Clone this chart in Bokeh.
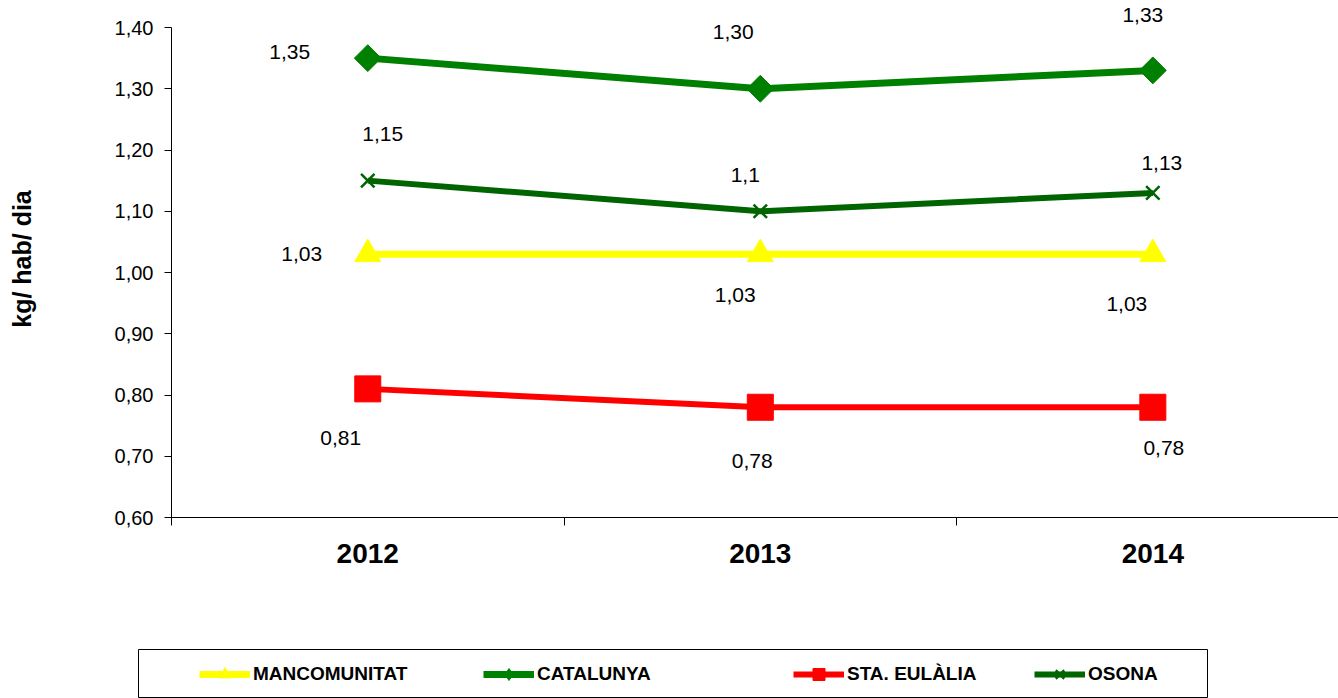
from bokeh.plotting import figure
from bokeh.layouts import column
from bokeh.core.properties import value
from bokeh.models import (ColumnDataSource, Range1d, FixedTicker, CustomJSTickFormatter,
                          LabelSet, Legend, LegendItem)
from bokeh.embed import file_html
from bokeh.resources import INLINE

# ---------------- data ----------------
years = ["2012", "2013", "2014"]
mancomunitat = [1.03, 1.03, 1.03]
catalunya = [1.35, 1.30, 1.33]
sta_eulalia = [0.81, 0.78, 0.78]
osona = [1.15, 1.10, 1.13]

mancomunitat_labels = ["1,03", "1,03", "1,03"]
catalunya_labels = ["1,35", "1,30", "1,33"]
sta_eulalia_labels = ["0,81", "0,78", "0,78"]
osona_labels = ["1,15", "1,1", "1,13"]

y_ticks = [0.60, 0.70, 0.80, 0.90, 1.00, 1.10, 1.20, 1.30, 1.40]

# ---------------- styles ----------------
FONT = "Liberation Sans"

series = [
    dict(name="MANCOMUNITAT", values=mancomunitat, labels=mancomunitat_labels,
         color="#FFFF00", lw=7, marker="triangle", size=26, angle=0.0, mlw=1,
         legend_marker="triangle",
         dx=[-66, -25, -26], dy=[0, 41, 50], lx=61),
    dict(name="CATALUNYA", values=catalunya, labels=catalunya_labels,
         color="#008000", lw=7, marker="square", size=19, angle=0.785398, mlw=1,
         legend_marker="diamond",
         dx=[-78, -27, -10], dy=[-6, -57, -55], lx=345),
    dict(name="STA. EULÀLIA", values=sta_eulalia, labels=sta_eulalia_labels,
         color="#FF0000", lw=6, marker="square", size=26, angle=0.0, mlw=1,
         legend_marker="square",
         dx=[-27, -8, 11], dy=[49, 54, 41], lx=655),
    dict(name="OSONA", values=osona, labels=osona_labels,
         color="#006400", lw=6, marker="x", size=19, angle=0.0, mlw=2.5,
         legend_marker="x",
         dx=[15, -15, 9], dy=[-47, -36, -30], lx=896),
]

xs = [i + 0.5 for i in range(len(years))]

# frame top sits 27px above the 1,40 tick so that labels above it stay visible
p = figure(width=1338, height=649, output_backend="svg", toolbar_location=None,
           x_range=Range1d(0, 2.973), y_range=Range1d(0.6, 1.4441),
           min_border_left=171, min_border_right=0, min_border_top=0,
           min_border_bottom=132, frame_align=False)
p.outline_line_color = None
p.grid.visible = False

# legend strip (its frame outline is the legend box)
lf = figure(width=1338, height=49, output_backend="svg", toolbar_location=None,
            x_range=Range1d(0, 3), y_range=Range1d(0, 2),
            x_axis_location=None, y_axis_location=None,
            min_border_left=138, min_border_right=131, min_border_top=0,
            min_border_bottom=0, frame_align=False)
lf.grid.visible = False
lf.outline_line_color = "black"
lf.outline_line_width = 1

for s in series:
    src = ColumnDataSource(dict(x=xs, y=s["values"], text=s["labels"],
                                xo=s["dx"], yo=[-d for d in s["dy"]]))
    p.line("x", "y", source=src, line_color=s["color"], line_width=s["lw"])
    p.scatter("x", "y", source=src, marker=s["marker"], size=s["size"],
              angle=s["angle"], fill_color=s["color"], line_color=s["color"],
              line_width=s["mlw"])
    p.add_layout(LabelSet(x="x", y="y", text="text", source=src, x_offset="xo",
                          y_offset="yo", text_align="center", text_baseline="middle",
                          text_font=value(FONT), text_font_size="21px",
                          text_color="black"))

    # legend entry renderers (same series, hidden; only their legend glyph is shown)
    lr = lf.line("x", "y", source=src, line_color=s["color"], line_width=s["lw"])
    mr = lf.scatter("x", "y", source=src, marker=s["legend_marker"], size=s["size"],
                    fill_color=s["color"], line_color=s["color"],
                    line_width=s["mlw"])
    lr.visible = False
    mr.visible = False
    lg = Legend(items=[LegendItem(label=s["name"], renderers=[lr, mr])],
                location=(s["lx"], 9), orientation="horizontal",
                padding=0, margin=0, spacing=0, border_line_color=None,
                background_fill_alpha=0, glyph_width=51, glyph_height=30,
                label_height=30, label_standoff=3,
                label_text_font=FONT, label_text_font_style="bold",
                label_text_font_size="19px", label_text_color="black")
    lf.add_layout(lg, "center")

# y axis
yax = p.yaxis[0]
yax.ticker = FixedTicker(ticks=y_ticks)
yax.bounds = (0.6, 1.4)
yax.formatter = CustomJSTickFormatter(code="return tick.toFixed(2).replace('.', ',');")
yax.major_tick_out = 7
yax.major_tick_in = 0
yax.minor_tick_out = 0
yax.minor_tick_in = 0
yax.major_label_standoff = 11
yax.major_label_text_font = FONT
yax.major_label_text_font_size = "20px"
yax.major_label_text_color = "black"
yax.axis_line_color = "black"
yax.major_tick_line_color = "black"
yax.axis_label = "kg/ hab/ dia"
yax.axis_label_text_font = FONT
yax.axis_label_text_font_style = "bold"
yax.axis_label_text_font_size = "25px"
yax.axis_label_text_color = "black"
yax.axis_label_standoff = 76

# x axis
xax = p.xaxis[0]
xax.ticker = FixedTicker(ticks=xs, minor_ticks=[0, 1, 2, 3])
xax.formatter = CustomJSTickFormatter(args=dict(labels=years),
                                      code="return labels[Math.floor(tick)];")
xax.major_tick_out = 0
xax.major_tick_in = 0
xax.minor_tick_out = 8
xax.minor_tick_in = 0
xax.minor_tick_line_color = "black"
xax.axis_line_color = "black"
xax.major_label_standoff = 18
xax.major_label_text_font = FONT
xax.major_label_text_font_style = "bold"
xax.major_label_text_font_size = "28px"
xax.major_label_text_color = "black"

layout = column(p, lf, spacing=0)
open("out.html", "w").write(file_html(layout, INLINE))
